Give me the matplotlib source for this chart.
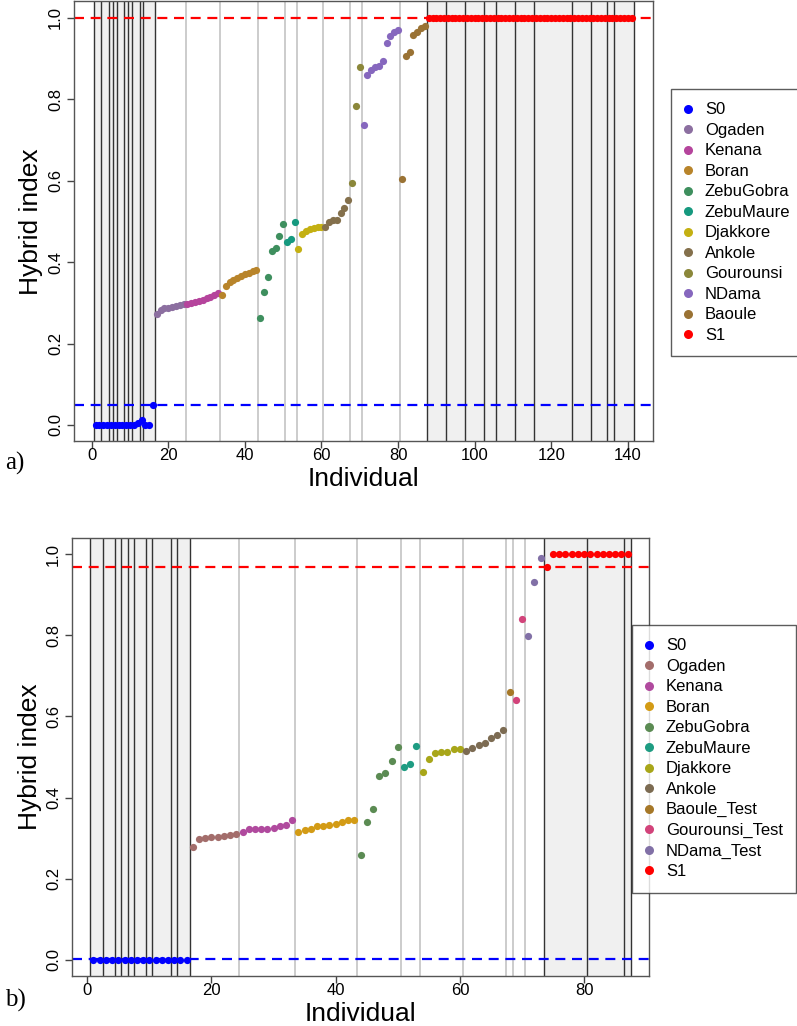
import numpy as np
import matplotlib
matplotlib.use('Agg')
import matplotlib.pyplot as plt
from matplotlib.lines import Line2D
from matplotlib.ticker import FormatStrFormatter

plt.rcParams['font.family'] = ['Liberation Sans', 'DejaVu Sans']

# ---------------- panel a) ----------------
names_a = ['S0', 'Ogaden', 'Kenana', 'Boran', 'ZebuGobra', 'ZebuMaure',
           'Djakkore', 'Ankole', 'Gourounsi', 'NDama', 'Baoule', 'S1']
colors_a = ['#0000FF', '#8C6FA0', '#B5449C', '#B8842A', '#3E8F5E', '#16997F',
            '#C4B012', '#84704C', '#8B873A', '#8667BE', '#9A7234', '#FF0000']

s0_a = [0, 0, 0, 0, 0, 0, 0, 0, 0, 0, 0, 0.004, 0.012, 0, 0, 0.05]
ogaden_a = [0.273, 0.283, 0.286, 0.288, 0.290, 0.292, 0.295, 0.298]
kenana_a = [0.296, 0.300, 0.303, 0.305, 0.308, 0.311, 0.314, 0.318, 0.325]
boran_a = [0.319, 0.340, 0.350, 0.357, 0.362, 0.366, 0.370, 0.373, 0.377, 0.380]
zebugobra_a = [0.263, 0.326, 0.363, 0.428, 0.435, 0.464, 0.494]
zebumaure_a = [0.450, 0.456, 0.498]
djakkore_a = [0.433, 0.468, 0.475, 0.480, 0.483, 0.485, 0.487]
ankole_a = [0.485, 0.499, 0.504, 0.503, 0.520, 0.532, 0.552]
gourounsi_a = [0.593, 0.782, 0.878]
ndama_a = [0.737, 0.859, 0.872, 0.878, 0.881, 0.894, 0.937, 0.955, 0.965, 0.970]
baoule_a = [0.605, 0.907, 0.916, 0.957, 0.964, 0.974, 0.979]
s1_a = [1.0] * 54

# sub-population sizes inside the parental groups (dark separators)
s0_sub_a = [2, 2, 1, 1, 2, 1, 1, 2, 1, 3]
s1_sub_a = [5, 5, 5, 3, 5, 5, 10, 5, 4, 2, 5]
lower_a, upper_a = 0.05, 0.999

# ---------------- panel b) ----------------
names_b = ['S0', 'Ogaden', 'Kenana', 'Boran', 'ZebuGobra', 'ZebuMaure',
           'Djakkore', 'Ankole', 'Baoule_Test', 'Gourounsi_Test', 'NDama_Test', 'S1']
colors_b = ['#0000FF', '#A36D6B', '#B04A9E', '#D39B15', '#5B8B53', '#1E9C82',
            '#A8A619', '#7C6B52', '#A67828', '#D2437A', '#8170A6', '#FF0000']

s0_b = [0] * 16
ogaden_b = [0.279, 0.298, 0.301, 0.303, 0.303, 0.306, 0.308, 0.309]
kenana_b = [0.314, 0.323, 0.323, 0.323, 0.323, 0.325, 0.331, 0.333, 0.344]
boran_b = [0.315, 0.321, 0.323, 0.329, 0.331, 0.332, 0.335, 0.340, 0.344, 0.345]
zebugobra_b = [0.259, 0.339, 0.372, 0.452, 0.461, 0.490, 0.524]
zebumaure_b = [0.475, 0.482, 0.528]
djakkore_b = [0.462, 0.496, 0.509, 0.513, 0.513, 0.519, 0.521]
ankole_b = [0.514, 0.523, 0.530, 0.535, 0.548, 0.555, 0.566]
baoule_test_b = [0.661]
gourounsi_test_b = [0.640, 0.841]
ndama_test_b = [0.798, 0.932, 0.990]
s1_b = [0.969] + [1.0] * 13

s0_sub_b = [2, 2, 1, 1, 1, 2, 1, 3, 1, 2]
s1_sub_b = [7, 6, 1]
lower_b, upper_b = 0.001, 0.968

values_a = [s0_a, ogaden_a, kenana_a, boran_a, zebugobra_a, zebumaure_a,
            djakkore_a, ankole_a, gourounsi_a, ndama_a, baoule_a, s1_a]
values_b = [s0_b, ogaden_b, kenana_b, boran_b, zebugobra_b, zebumaure_b,
            djakkore_b, ankole_b, baoule_test_b, gourounsi_test_b, ndama_test_b, s1_b]


def draw_panel(ax, names, colors, values, s0_sub, s1_sub, lower, upper):
    sizes = [len(v) for v in values]
    n_total = sum(sizes)
    edges = np.cumsum([0] + sizes) + 0.5

    # shaded parental blocks
    ax.axvspan(0.5, edges[1], color='#F0F0F0', zorder=0, lw=0)
    ax.axvspan(edges[-2], edges[-1], color='#F0F0F0', zorder=0, lw=0)

    # light separators between admixed groups
    for e in edges[2:-2]:
        ax.axvline(e, color='#C4C4C4', lw=1.2, zorder=1)

    # dark separators inside parental groups
    for start, subs in [(0.5, s0_sub), (edges[-2], s1_sub)]:
        ax.axvline(start, color='#333333', lw=1.0, zorder=1)
        for b in np.cumsum(subs) + start:
            ax.axvline(b, color='#333333', lw=1.0, zorder=1)

    ax.axhline(lower, color='#0000FF', lw=1.6, ls=(0, (4.5, 3)), zorder=2)
    ax.axhline(upper, color='#FF0000', lw=1.6, ls=(0, (4.5, 3)), zorder=2)

    for i, (v, c) in enumerate(zip(values, colors)):
        x = np.arange(edges[i] + 0.5, edges[i + 1])
        ax.plot(x, v, 'o', color=c, ms=5.2, mec='none', zorder=3)

    ax.set_xlim(1 - 0.04 * (n_total - 1), n_total + 0.04 * (n_total - 1))
    ax.set_ylim(-0.04, 1.04)
    ax.set_yticks([0, 0.2, 0.4, 0.6, 0.8, 1.0])
    ax.yaxis.set_major_formatter(FormatStrFormatter('%.1f'))
    ax.tick_params(axis='both', direction='out', length=5, width=1,
                   color='#444444', labelsize=12)
    ax.tick_params(axis='x', pad=0)
    ax.tick_params(axis='y', labelrotation=90, pad=3)
    for lab in ax.get_yticklabels():
        lab.set_va('center')
    for sp in ax.spines.values():
        sp.set_color('#555555')
        sp.set_linewidth(1.0)

    ax.set_xlabel('Individual', fontsize=19)
    ax.set_ylabel('Hybrid index', fontsize=19)
    ax.xaxis.set_label_coords(0.5, -0.0585)
    ax.yaxis.set_label_coords(-0.053, 0.5)

    handles = [Line2D([], [], marker='o', ls='', color=c, ms=6.5, mec='none')
               for c in colors]
    return handles


fig = plt.figure(figsize=(7.97, 10.26), dpi=100)

ax_a = fig.add_axes([0.0930, 0.5699, 0.7264, 0.4288])
h_a = draw_panel(ax_a, names_a, colors_a, values_a, s0_sub_a, s1_sub_a, lower_a, upper_a)
ax_a.set_xticks([0, 20, 40, 60, 80, 100, 120, 140])

ax_b = fig.add_axes([0.0905, 0.0488, 0.7237, 0.4267])
h_b = draw_panel(ax_b, names_b, colors_b, values_b, s0_sub_b, s1_sub_b, lower_b, upper_b)
ax_b.set_xticks([0, 20, 40, 60, 80])

leg_kw = dict(loc='upper left', frameon=True, fancybox=False, fontsize=12,
              handlelength=0.5, handletextpad=0.75, borderpad=0.8,
              labelspacing=0.33, borderaxespad=0)
leg_a = fig.legend(h_a, names_a, bbox_to_anchor=(670.7 / 797, 1 - 89 / 1026), **leg_kw)
leg_b = fig.legend(h_b, names_b, bbox_to_anchor=(631.7 / 797, 1 - 625 / 1026), **leg_kw)
for leg in (leg_a, leg_b):
    leg.get_frame().set_edgecolor('#333333')
    leg.get_frame().set_linewidth(1.0)

fig.text(15 / 797, 1 - 463 / 1026, 'a)', fontsize=18, family='Liberation Serif',
         ha='center', va='center')
fig.text(15 / 797, 1 - 1000 / 1026, 'b)', fontsize=18, family='Liberation Serif',
         ha='center', va='center')

fig.savefig('out.png', dpi=100)
